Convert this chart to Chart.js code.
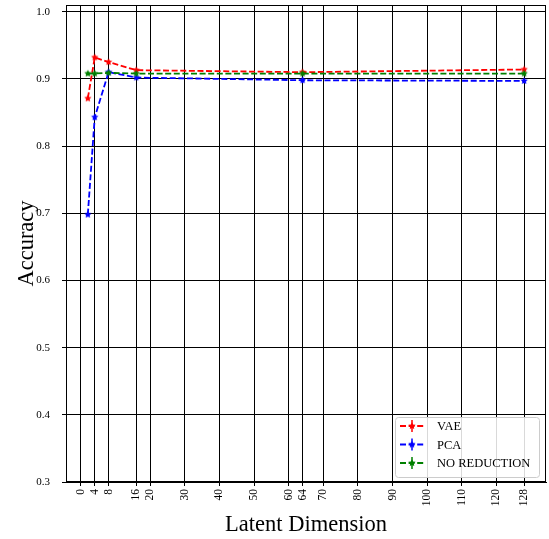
<!DOCTYPE html>
<html>
<head>
<meta charset="utf-8">
<script src="https://cdn.jsdelivr.net/npm/chart.js@4.4.0/dist/chart.umd.min.js"></script>
<style>
  html, body { margin: 0; padding: 0; background: #fff; }
  #wrap { width: 549px; height: 539px; }
</style>
</head>
<body>
<div id="wrap"><canvas id="c" width="549" height="539"></canvas></div>
<script>
const latentDims = [2, 4, 8, 16, 64, 128];
const vaeAcc = [0.871, 0.932, 0.925, 0.913, 0.910, 0.914];
const pcaAcc = [0.698, 0.843, 0.910, 0.902, 0.898, 0.897];
const noRedAcc = [0.908, 0.908, 0.909, 0.908, 0.908, 0.908];
const vaeErr = [0, 0, 0, 0, 0, 0];
const pcaErr = [0, 0, 0, 0, 0.004, 0.003];
const noRedErr = [0, 0, 0, 0, 0, 0];
const xTickValues = [0, 4, 8, 16, 20, 30, 40, 50, 60, 64, 70, 80, 90, 100, 110, 120, 128];
const yTickValues = [0.3, 0.4, 0.5, 0.6, 0.7, 0.8, 0.9, 1.0];
const seriesNames = ['VAE', 'PCA', 'NO REDUCTION'];
const seriesColors = ['#ff0000', '#0000ff', '#008000'];

function makeStar(color, r) {
  const s = Math.ceil(r * 2 + 2);
  const cv = document.createElement('canvas');
  cv.width = s; cv.height = s;
  const g = cv.getContext('2d');
  const cx = s / 2, cy = s / 2;
  g.beginPath();
  for (let i = 0; i < 10; i++) {
    const rr = i % 2 === 0 ? r : r * 0.5;
    const a = -Math.PI / 2 + i * Math.PI / 5;
    const px = cx + rr * Math.cos(a), py = cy + rr * Math.sin(a);
    if (i === 0) g.moveTo(px, py); else g.lineTo(px, py);
  }
  g.closePath();
  g.fillStyle = color;
  g.fill();
  return cv;
}
const stars = seriesColors.map(c => makeStar(c, 3.8));

function ds(label, ys, errs, idx, order) {
  return {
    label: label,
    data: latentDims.map((x, i) => ({x: x, y: ys[i]})),
    errs: errs,
    borderColor: seriesColors[idx],
    backgroundColor: seriesColors[idx],
    borderWidth: 1.8,
    borderDash: [6, 2.6],
    pointStyle: stars[idx],
    pointRadius: 4,
    pointHoverRadius: 4,
    tension: 0,
    fill: false,
    order: order
  };
}

const serif = "'Liberation Serif', 'DejaVu Serif', serif";

const framePlugin = {
  id: 'frame',
  afterDatasetsDraw(chart) {
    const {ctx, chartArea: a, scales} = chart;
    ctx.save();
    chart.data.datasets.forEach((d) => {
      ctx.strokeStyle = d.borderColor;
      ctx.lineWidth = 1.5;
      d.data.forEach((p, i) => {
        const e = d.errs[i];
        if (!e) return;
        const x = scales.x.getPixelForValue(p.x);
        ctx.beginPath();
        ctx.moveTo(x, scales.y.getPixelForValue(p.y - e));
        ctx.lineTo(x, scales.y.getPixelForValue(p.y + e));
        ctx.stroke();
      });
    });
    ctx.strokeStyle = '#000';
    ctx.lineWidth = 1;
    ctx.strokeRect(Math.round(a.left) + 0.5, Math.round(a.top) + 0.5, Math.round(a.right - a.left) - 1, Math.round(a.bottom - a.top) - 1);
    const bx = 395.5, by = 417.5, bw = 144, bh = 60;
    ctx.fillStyle = 'rgba(255,255,255,0.85)';
    ctx.strokeStyle = '#cccccc';
    ctx.lineWidth = 1;
    ctx.beginPath();
    if (ctx.roundRect) ctx.roundRect(bx, by, bw, bh, 3); else ctx.rect(bx, by, bw, bh);
    ctx.fill();
    ctx.stroke();
    ctx.font = "12.5px " + serif;
    ctx.textBaseline = 'middle';
    chart.data.datasets.forEach((d, i) => {
      const y = 426 + i * 18.5;
      ctx.strokeStyle = d.borderColor;
      ctx.lineWidth = 1.8;
      ctx.setLineDash([6, 2.6]);
      ctx.beginPath();
      ctx.moveTo(400, y); ctx.lineTo(424, y);
      ctx.stroke();
      ctx.setLineDash([]);
      ctx.lineWidth = 1.5;
      ctx.beginPath();
      ctx.moveTo(412, y - 6); ctx.lineTo(412, y + 6);
      ctx.stroke();
      ctx.drawImage(stars[i], 412 - stars[i].width / 2, y - stars[i].height / 2);
      ctx.fillStyle = '#000';
      ctx.fillText(d.label, 437, y + 1);
    });
    ctx.restore();
  }
};

new Chart(document.getElementById('c'), {
  type: 'line',
  data: {
    datasets: [
      ds(seriesNames[0], vaeAcc, vaeErr, 0, 3),
      ds(seriesNames[1], pcaAcc, pcaErr, 1, 2),
      ds(seriesNames[2], noRedAcc, noRedErr, 2, 1)
    ]
  },
  options: {
    responsive: false,
    animation: false,
    layout: { autoPadding: false, padding: { left: 0, right: 3, top: 5, bottom: 0 } },
    plugins: { legend: { display: false }, tooltip: { enabled: false } },
    scales: {
      x: {
        type: 'linear',
        min: -4.3,
        max: 134.3,
        afterBuildTicks(scale) { scale.ticks = xTickValues.map(v => ({value: v})); },
        afterFit(scale) { scale.height = 57; scale.paddingLeft = 0; scale.paddingRight = 0; scale.paddingTop = 0; scale.paddingBottom = 0; },
        ticks: {
          autoSkip: false,
          minRotation: 90,
          maxRotation: 90,
          padding: 3,
          color: '#000',
          font: { family: serif, size: 11.5 },
          callback: v => String(v)
        },
        grid: { color: '#000', lineWidth: 1, tickLength: 4, drawTicks: true },
        border: { color: '#000', width: 1 },
        title: {
          display: true,
          text: 'Latent Dimension',
          color: '#000',
          font: { family: serif, size: 22.5 },
          padding: { top: 0, bottom: 0 }
        }
      },
      y: {
        type: 'linear',
        min: 0.3,
        max: 1.01,
        afterBuildTicks(scale) { scale.ticks = yTickValues.map(v => ({value: v})); },
        afterFit(scale) { scale.width = 66; scale.paddingTop = 0; scale.paddingBottom = 0; scale.paddingLeft = 0; scale.paddingRight = 0; },
        ticks: {
          padding: 12,
          color: '#000',
          font: { family: serif, size: 11 },
          callback: v => Number(v).toFixed(1)
        },
        grid: { color: '#000', lineWidth: 1, tickLength: 4 },
        border: { color: '#000', width: 1 },
        title: {
          display: true,
          text: 'Accuracy',
          color: '#000',
          font: { family: serif, size: 22.5 },
          padding: { top: 14, bottom: 0 }
        }
      }
    }
  },
  plugins: [framePlugin]
});
</script>
</body>
</html>
